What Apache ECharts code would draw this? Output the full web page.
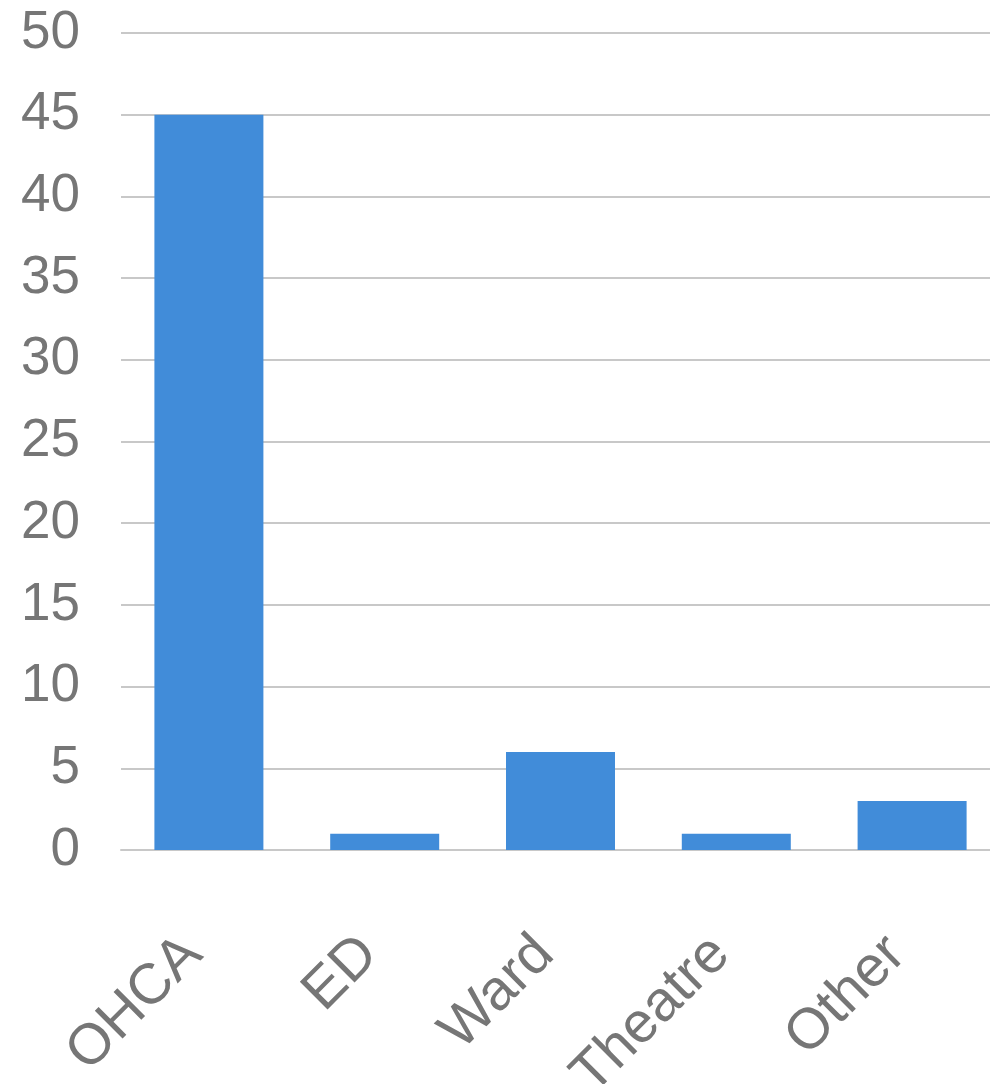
<!DOCTYPE html>
<html>
<head>
<meta charset="utf-8">
<script src="https://cdn.jsdelivr.net/npm/echarts@6/dist/echarts.min.js"></script>
<style>
  html, body { margin: 0; padding: 0; background: #fff; }
  #main { width: 990px; height: 1084px; }
</style>
</head>
<body>
<div id="main"></div>
<script>
var categories = ['OHCA', 'ED', 'Ward', 'Theatre', 'Other'];
var values = [45, 1, 6, 1, 3];

var chartDom = document.getElementById('main');
var myChart = echarts.init(chartDom);

var option = {
    animation: false,
    grid: {
        left: 121,
        right: -10,
        top: 33,
        bottom: 234,
        outerBoundsMode: 'none'
    },
    xAxis: {
        type: 'category',
        data: categories,
        axisTick: { show: false },
        axisLine: { lineStyle: { color: '#c8c8c8', width: 2 } },
        axisLabel: {
            rotate: 45,
            margin: 80,
            padding: [0, 22, 0, 0],
            fontSize: 57,
            fontFamily: 'Liberation Sans',
            color: '#767676',
            interval: 0
        }
    },
    yAxis: {
        type: 'value',
        min: 0,
        max: 50,
        interval: 5,
        axisLine: { show: false },
        axisTick: { show: false },
        splitLine: { lineStyle: { color: '#c8c8c8', width: 2 } },
        axisLabel: {
            margin: 41,
            fontSize: 53,
            fontFamily: 'Liberation Sans',
            color: '#767676'
        }
    },
    series: [
        {
            type: 'bar',
            data: values,
            barWidth: 109,
            itemStyle: { color: '#418cd9' }
        }
    ]
};

myChart.setOption(option);
</script>
</body>
</html>
